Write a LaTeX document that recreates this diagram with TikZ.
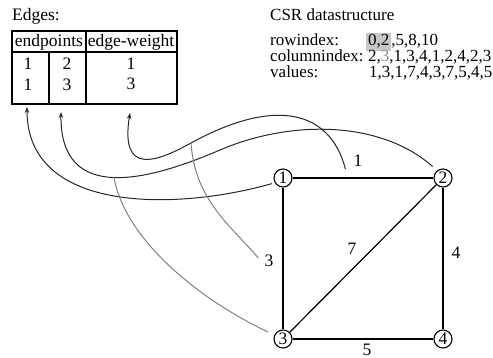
\documentclass[tikz,border=0pt]{standalone}
\usepackage{fontspec}
\setmainfont{Liberation Serif}
\usetikzlibrary{arrows.meta}

\begin{document}
\begin{tikzpicture}[
        x=1pt, y=-1pt,
        vertex/.style={draw, circle, line width=1.1pt, minimum size=18pt, inner sep=0pt},
        edge/.style={line width=1.2pt},
        tab/.style={line width=1.1pt},
        cell/.style={anchor=base, inner sep=0pt},
        txt/.style={anchor=base west, inner sep=0pt},
        csrtxt/.style={txt, font=\fontsize{17}{20}\selectfont},
        weight/.style={inner sep=2pt},
        link/.style={line width=1pt, black!85, -{Stealth[length=6pt, width=4.5pt]}},
        helper/.style={line width=1pt, black!50},
        font=\fontsize{17.5}{21}\selectfont
    ]
    \useasboundingbox (0,0) rectangle (493,358);

    % Edge table
    \node[txt] (edges) at (12,21) {Edges:};
    \draw[tab] (12,31) rectangle (177,104);
    \draw[tab] (12,52) -- (177,52);
    \draw[tab] (49,52) -- (49,104);
    \draw[tab] (86,31) -- (86,104);
    \node[cell] (hend) at (49,47) {endpoints};
    \node[cell] (hweight) at (131,47) {edge-weight};
    \node[cell] (from1) at (28,70) {1};
    \node[cell] (to1) at (67,70) {2};
    \node[cell] (weight1) at (131,70) {1};
    \node[cell] (from2) at (28,91) {1};
    \node[cell] (to2) at (67,91) {3};
    \node[cell] (weight2) at (131,90) {3};

    % CSR data structure
    \node[csrtxt] (csr) at (270,21) {CSR datastructure};
    \node[csrtxt] (rowlbl) at (270,46) {rowindex:};
    \node[csrtxt] (collbl) at (270,62) {columnindex:};
    \node[csrtxt] (vallbl) at (270,78) {values:};
    \node[csrtxt] (rowval) at (366,46) {{\setlength\fboxsep{2pt}\colorbox{black!22}{0,2}},5,8,10};
    \node[csrtxt] (colval) at (368,62) {2,\textcolor{black!45}{3},1,3,4,1,2,4,2,3};
    \node[csrtxt] (valval) at (369,78) {1,3,1,7,4,3,7,5,4,5};

    % Graph
    \node[vertex] (n1) at (283,178) {1};
    \node[vertex] (n2) at (443,178) {2};
    \node[vertex] (n3) at (283,339) {3};
    \node[vertex] (n4) at (443,339) {4};
    \draw[edge] (n1) -- (n2);
    \draw[edge] (n1) -- (n3);
    \draw[edge] (n2) -- (n3);
    \draw[edge] (n2) -- (n4);
    \draw[edge] (n3) -- (n4);
    \node[weight] (w12) at (358,161) {1};
    \node[weight] (w23) at (352,249) {7};
    \node[weight] (w24) at (456,253) {4};
    \node[weight] (w34) at (367,350) {5};
    \node[weight] (w13) at (269,261) {3};

    % Arrows into the table
    \coordinate (tipfrom) at (27,107);
    \coordinate (tipto) at (61,112);
    \coordinate (tipweight) at (130,113);
    \draw[link, shorten <=3pt] (n1.210) .. controls (180,210) and (27,215) .. (tipfrom);
    \draw[link, shorten <=6pt] (n2.128) .. controls (380,120) and (290,120) .. (220,150)
        .. controls (150,180) and (60,205) .. (tipto) coordinate[pos=0.5] (bendto);
    \draw[link] ([xshift=-6pt]w12.south west) .. controls (330,110) and (275,97) .. (191,143) coordinate (bendweight)
        .. controls (155,163) and (120,175) .. (tipweight);

    % Second row links
    \draw[helper, shorten >=7pt] (bendto) .. controls (125,240) and (200,300) .. (n3);
    \draw[helper] (bendweight) .. controls (195,200) and (230,225) .. ([xshift=-4pt, yshift=3pt]w13.west);
\end{tikzpicture}
\end{document}
